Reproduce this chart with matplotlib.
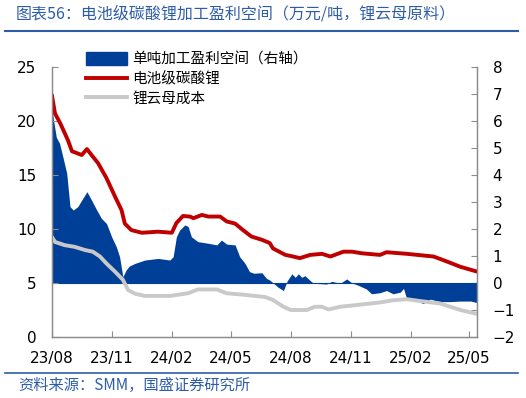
import pandas as pd
import matplotlib
matplotlib.use("Agg")
import matplotlib.pyplot as plt
import matplotlib.dates as mdates
from matplotlib.patches import Patch
from matplotlib.lines import Line2D

plt.rcParams['font.family'] = ['DejaVu Sans', 'Noto Sans CJK SC']

title = "图表56：电池级碳酸锂加工盈利空间（万元/吨，锂云母原料）"
source = "资料来源：SMM，国盛证券研究所"
labels = ["单吨加工盈利空间（右轴）", "电池级碳酸锂", "锂云母成本"]

# 电池级碳酸锂价格 (left axis)
price_dates = ['2023-08-01', '2023-08-06', '2023-08-14', '2023-08-26', '2023-09-01', '2023-09-16',
               '2023-09-24', '2023-10-01', '2023-10-11', '2023-10-24', '2023-11-06', '2023-11-16',
               '2023-11-21', '2023-12-01', '2023-12-17', '2024-01-11', '2024-02-01', '2024-02-08',
               '2024-02-18', '2024-02-29', '2024-03-05', '2024-03-18', '2024-03-28', '2024-04-15',
               '2024-04-25', '2024-05-08', '2024-05-20', '2024-06-02', '2024-06-18', '2024-06-30',
               '2024-07-05', '2024-07-24', '2024-08-05', '2024-08-15', '2024-08-31', '2024-09-18',
               '2024-10-01', '2024-10-21', '2024-11-03', '2024-11-18', '2024-12-16', '2024-12-26',
               '2025-01-26', '2025-03-08', '2025-03-28', '2025-04-18', '2025-05-14']
price = [22.5, 20.7, 19.8, 18.2, 17.2, 16.85, 17.4, 16.85, 16.1, 14.7, 13.0, 11.75, 10.5, 9.9, 9.65,
         9.75, 9.65, 10.55, 11.2, 11.15, 11.0, 11.3, 11.15, 11.15, 10.7, 10.5, 9.9, 9.3, 9.0, 8.7,
         8.2, 7.6, 7.45, 7.3, 7.6, 7.7, 7.45, 7.9, 7.9, 7.75, 7.6, 7.85, 7.7, 7.45, 7.0, 6.5, 6.05]

# 锂云母成本 (left axis)
cost_dates = ['2023-08-01', '2023-08-06', '2023-08-21', '2023-09-05', '2023-09-21', '2023-10-03',
              '2023-10-14', '2023-10-24', '2023-11-06', '2023-11-18', '2023-11-26', '2023-12-07',
              '2023-12-22', '2024-01-29', '2024-02-26', '2024-03-12', '2024-04-10', '2024-04-25',
              '2024-05-23', '2024-06-23', '2024-07-05', '2024-07-21', '2024-08-01', '2024-08-26',
              '2024-09-07', '2024-09-18', '2024-09-28', '2024-10-16', '2024-11-10', '2024-12-16',
              '2025-01-05', '2025-01-26', '2025-02-15', '2025-03-18', '2025-04-18', '2025-05-14']
cost = [9.3, 8.8, 8.5, 8.35, 8.05, 7.9, 7.45, 6.8, 6.05, 5.3, 4.35, 4.0, 3.8, 3.8, 4.05, 4.4, 4.4,
        4.05, 3.9, 3.7, 3.43, 2.8, 2.5, 2.5, 2.8, 2.8, 2.55, 2.8, 2.96, 3.2, 3.4, 3.5, 3.33, 3.1,
        2.5, 2.13]

# 单吨加工盈利空间 (right axis)
margin_dates = ['2023-08-01', '2023-08-03', '2023-08-08', '2023-08-13', '2023-08-18', '2023-08-24',
                '2023-08-29', '2023-09-03', '2023-09-10', '2023-09-16', '2023-09-24', '2023-10-01',
                '2023-10-09', '2023-10-16', '2023-10-24', '2023-11-01', '2023-11-08', '2023-11-13',
                '2023-11-18', '2023-11-23', '2023-11-28', '2023-12-07', '2023-12-22', '2024-01-11',
                '2024-01-29', '2024-02-03', '2024-02-08', '2024-02-13', '2024-02-21', '2024-02-26',
                '2024-03-02', '2024-03-12', '2024-03-28', '2024-04-10', '2024-04-17', '2024-04-25',
                '2024-05-08', '2024-05-15', '2024-05-23', '2024-05-30', '2024-06-06', '2024-06-18',
                '2024-06-25', '2024-06-30', '2024-07-13', '2024-07-21', '2024-07-27', '2024-08-03',
                '2024-08-08', '2024-08-13', '2024-08-18', '2024-08-23', '2024-08-31', '2024-09-05',
                '2024-09-25', '2024-10-03', '2024-10-16', '2024-10-26', '2024-11-03', '2024-11-12',
                '2024-11-25', '2024-12-03', '2024-12-16', '2024-12-26', '2025-01-05', '2025-01-16',
                '2025-01-21', '2025-01-26', '2025-02-10', '2025-02-20', '2025-03-03', '2025-03-18',
                '2025-04-02', '2025-04-18', '2025-05-04', '2025-05-14']
margin = [7.0, 6.15, 5.4, 5.17, 4.68, 4.06, 2.83, 2.7, 2.83, 3.07, 3.38, 3.07, 2.7, 2.4, 2.2, 1.7,
          1.34, 0.97, 0.23, 0.48, 0.63, 0.73, 0.85, 0.91, 0.85, 0.97, 1.71, 1.96, 2.15, 2.09, 1.71,
          1.53, 1.47, 1.41, 1.59, 1.44, 1.41, 0.97, 0.73, 0.42, 0.36, 0.38, 0.17, 0.11, -0.16,
          -0.28, 0.09, 0.34, 0.21, 0.34, 0.21, 0.27, 0.09, -0.01, -0.04, 0.06, -0.01, 0.15, 0.0,
          -0.08, -0.22, -0.4, -0.36, -0.28, -0.4, -0.34, -0.2, -0.6, -0.66, -0.76, -0.6, -0.69,
          -0.69, -0.67, -0.67, -0.73]

blue = '#003F98'
red = '#C00000'
grey = '#C9C9C9'
spine = '#8C8C8C'
header = '#2E5DA8'

fig = plt.figure(figsize=(5.26, 3.98), dpi=100)
ax2 = fig.add_axes([0.0983, 0.1533, 0.8091, 0.6784])
ax = ax2.twinx()
ax.yaxis.tick_left()
ax2.yaxis.tick_right()

ax2.fill_between(pd.to_datetime(margin_dates), margin, 0, color=blue, lw=0)
ax2.axhline(0, color=blue, lw=0.8)
ax.plot(pd.to_datetime(price_dates), price, color=red, lw=2.8, solid_capstyle='butt')
ax.plot(pd.to_datetime(cost_dates), cost, color=grey, lw=2.8, solid_capstyle='butt')

ax.set_ylim(0, 25)
ax.set_yticks(range(0, 26, 5))
ax2.set_ylim(-2, 8)
ax2.set_yticks(range(-2, 9))
ax.set_xlim(pd.Timestamp('2023-08-01'), pd.Timestamp('2025-05-14'))
ax2.xaxis.set_major_locator(mdates.MonthLocator(bymonth=[2, 5, 8, 11]))
ax2.xaxis.set_major_formatter(mdates.DateFormatter('%y/%m'))

for a in (ax, ax2):
    a.spines['top'].set_visible(False)
    for s in ('left', 'right', 'bottom'):
        a.spines[s].set_color(spine)
        a.spines[s].set_linewidth(0.9)
    a.tick_params(direction='in', length=4, width=0.8, color=spine, labelsize=11)
ax2.tick_params(axis='y', pad=11)
ax.tick_params(axis='y', pad=11)
ax.tick_params(axis='x', labelbottom=False)
ax2.tick_params(axis='x', pad=10)

handles = [Patch(color=blue), Line2D([], [], color=red, lw=2.8), Line2D([], [], color=grey, lw=2.8)]
fig.legend(handles, labels, loc='upper left', bbox_to_anchor=(0.163, 0.87), frameon=False,
           fontsize=10.5, handlelength=2.8, handleheight=1.0, handletextpad=0.4,
           labelspacing=0.32, borderaxespad=0, borderpad=0)

fig.text(0.03, 0.965, title, color=header, fontsize=11.5, style='italic', va='center',
         family=['Noto Sans CJK SC', 'DejaVu Sans'])
fig.add_artist(Line2D([0.01, 0.985], [0.922, 0.922], color=header, lw=1.5))
fig.add_artist(Line2D([0.01, 0.985], [0.063, 0.063], color=header, lw=1.2))
fig.text(0.035, 0.032, source, color=header, fontsize=11, style='italic', va='center',
         family=['Noto Sans CJK SC', 'DejaVu Sans'])

fig.savefig('out.png', dpi=100)
